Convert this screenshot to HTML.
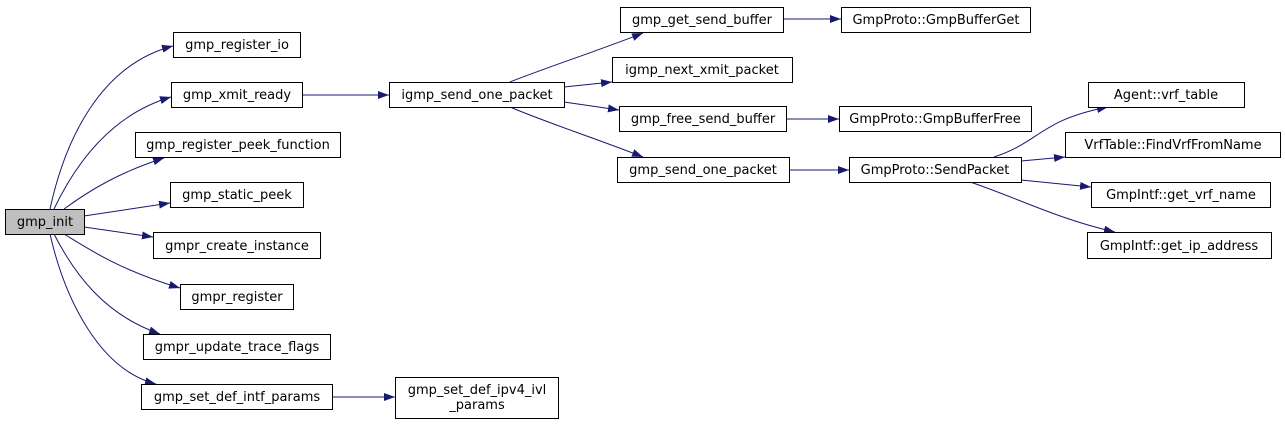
<!DOCTYPE html>
<html><head><style>
html,body{margin:0;padding:0;background:#fff;}
svg text{font-family:"DejaVu Sans","Liberation Sans",sans-serif;font-size:13px;fill:#000;}
</style></head><body>
<svg width="1285" height="424" viewBox="0 0 1285 424" xmlns="http://www.w3.org/2000/svg">
<defs>
<marker id="a" viewBox="0 0 11 8" refX="11" refY="4" markerWidth="11" markerHeight="8" orient="auto" markerUnits="userSpaceOnUse">
<path d="M0,0 L11,4 L0,8 Z" fill="#191970"/>
</marker>
</defs>
<g fill="none" stroke="#191970" stroke-width="1" marker-end="url(#a)">
<path d="M50,209 C65,140 100,65 173,46"/>
<path d="M54,209 C75,165 110,115 171,97"/>
<path d="M64,209 C90,190 120,172 164,158"/>
<path d="M84,216 L170,203"/>
<path d="M84,227 L153,237"/>
<path d="M64,234 C90,250 120,270 180,288"/>
<path d="M54,234 C75,275 105,315 160,334"/>
<path d="M50,234 C65,300 100,370 156,384"/>
<path d="M302,95 L389,95"/>
<path d="M332,397 L395,397"/>
<path d="M510,82 C545,68 600,50 643,33"/>
<path d="M564,87 L612,82"/>
<path d="M564,102 L619,110"/>
<path d="M510,107 C545,122 600,140 643,157"/>
<path d="M783,19 L841,19"/>
<path d="M786,119 L839,119"/>
<path d="M789,170 L849,170"/>
<path d="M994,157 C1040,142 1040,120 1108,107"/>
<path d="M1021,161 L1065,157"/>
<path d="M1021,180 L1091,187"/>
<path d="M970,182 C1010,195 1060,220 1115,232"/>
</g>
<g stroke="#000" stroke-width="1" fill="#fff">
<rect x="5.5" y="209.5" width="79" height="25" fill="#bfbfbf"/>
<rect x="173.5" y="32.5" width="127" height="25"/>
<rect x="171.5" y="82.5" width="131" height="25"/>
<rect x="135.5" y="132.5" width="205" height="25"/>
<rect x="170.5" y="182.5" width="133" height="25"/>
<rect x="153.5" y="232.5" width="167" height="26"/>
<rect x="180.5" y="284.5" width="113" height="25"/>
<rect x="143.5" y="334.5" width="187" height="25"/>
<rect x="141.5" y="384.5" width="191" height="25"/>
<rect x="395.5" y="377.5" width="163" height="41"/>
<rect x="389.5" y="82.5" width="175" height="25"/>
<rect x="620.5" y="7.5" width="163" height="25"/>
<rect x="612.5" y="57.5" width="180" height="25"/>
<rect x="619.5" y="106.5" width="167" height="25"/>
<rect x="617.5" y="157.5" width="172" height="25"/>
<rect x="841.5" y="7.5" width="189" height="25"/>
<rect x="839.5" y="106.5" width="192" height="25"/>
<rect x="849.5" y="157.5" width="172" height="25"/>
<rect x="1088.5" y="82.5" width="156" height="25"/>
<rect x="1065.5" y="132.5" width="215" height="25"/>
<rect x="1091.5" y="182.5" width="179" height="25"/>
<rect x="1087.5" y="232.5" width="184" height="26"/>
</g>
<g text-anchor="middle">
<text x="45" y="226">gmp_init</text>
<text x="237" y="49">gmp_register_io</text>
<text x="237" y="99">gmp_xmit_ready</text>
<text x="238" y="149">gmp_register_peek_function</text>
<text x="237" y="199">gmp_static_peek</text>
<text x="237" y="250">gmpr_create_instance</text>
<text x="237" y="301">gmpr_register</text>
<text x="237" y="351">gmpr_update_trace_flags</text>
<text x="237" y="401">gmp_set_def_intf_params</text>
<text x="477" y="394">gmp_set_def_ipv4_ivl</text>
<text x="477" y="409">_params</text>
<text x="477" y="99">igmp_send_one_packet</text>
<text x="702" y="24">gmp_get_send_buffer</text>
<text x="702" y="74">igmp_next_xmit_packet</text>
<text x="703" y="123">gmp_free_send_buffer</text>
<text x="703" y="174">gmp_send_one_packet</text>
<text x="936" y="24">GmpProto::GmpBufferGet</text>
<text x="935" y="123">GmpProto::GmpBufferFree</text>
<text x="935" y="174">GmpProto::SendPacket</text>
<text x="1166" y="99">Agent::vrf_table</text>
<text x="1173" y="149">VrfTable::FindVrfFromName</text>
<text x="1181" y="199">GmpIntf::get_vrf_name</text>
<text x="1179" y="250">GmpIntf::get_ip_address</text>
</g>
</svg>
</body></html>
